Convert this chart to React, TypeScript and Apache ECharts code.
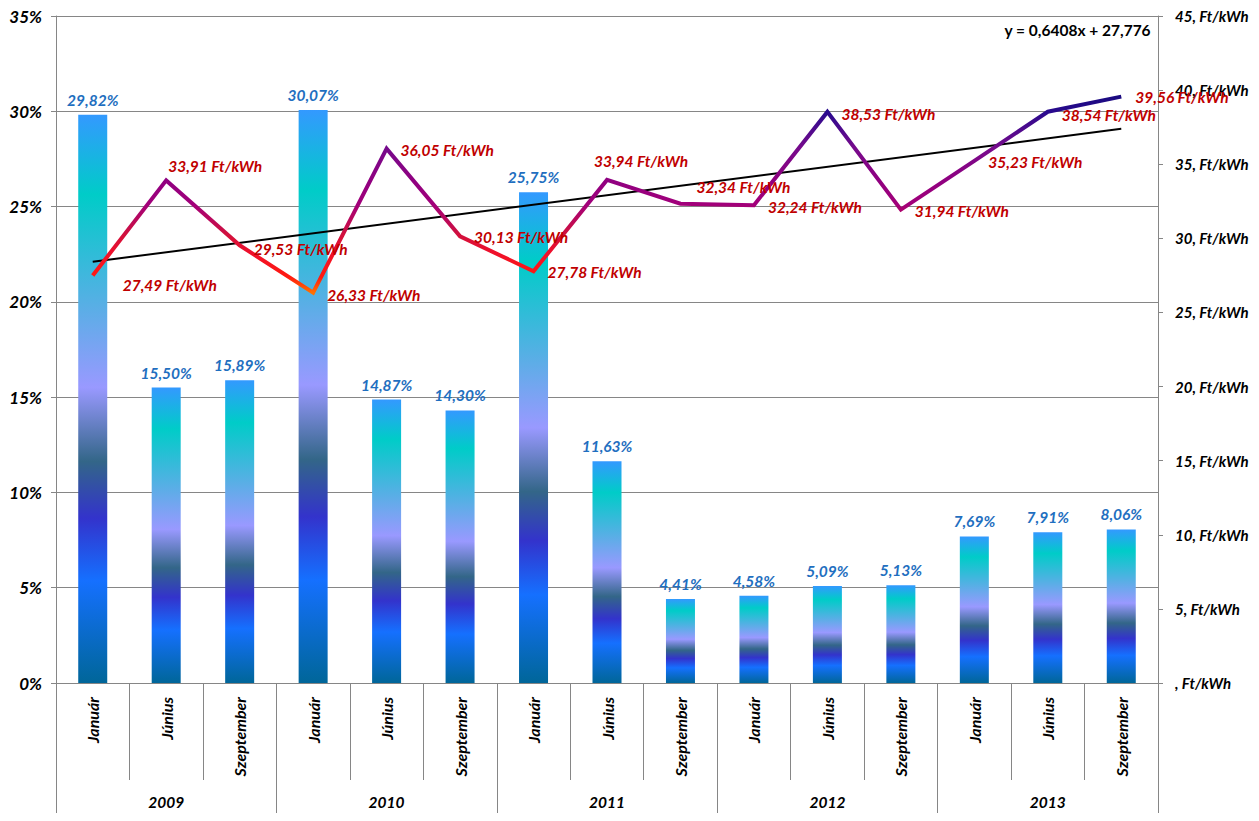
import React, { useEffect, useRef } from "react";
import * as echarts from "echarts";

const categories = [
  "Január", "Június", "Szeptember",
  "Január", "Június", "Szeptember",
  "Január", "Június", "Szeptember",
  "Január", "Június", "Szeptember",
  "Január", "Június", "Szeptember",
];
const years = ["2009", "2010", "2011", "2012", "2013"];
const shareValues = [29.82, 15.5, 15.89, 30.07, 14.87, 14.3, 25.75, 11.63, 4.41, 4.58, 5.09, 5.13, 7.69, 7.91, 8.06];
const priceValues = [27.49, 33.91, 29.53, 26.33, 36.05, 30.13, 27.78, 33.94, 32.34, 32.24, 38.53, 31.94, 35.23, 38.54, 39.56];
const trendEnds = [28.42, 37.39];
const trendLabel = "y = 0,6408x + 27,776";
// label offsets (styling) for line labels
const priceLabelOffsets: number[][] = [
  [16, 9], [-12, -14], [0, 4], [0, 2], [0, 1], [0, 1], [0, 1],
  [-27, -19], [2, -17], [0, 2], [0, 2], [0, 1], [0, 1], [0, 3], [0, 0],
];

const FONT = "Lato, 'Noto Sans', sans-serif";
const GRID_COLOR = "#868686";

const fmt = (v: number) => v.toFixed(2).replace(".", ",");

export default function App() {
  const ref = useRef<HTMLDivElement>(null);
  useEffect(() => {
    if (!ref.current) return;
    const chart = echarts.init(ref.current, null, { renderer: "svg" });
    const barGradient = new echarts.graphic.LinearGradient(0, 0, 0, 1, [
      { offset: 0, color: "#3399ff" },
      { offset: 0.14, color: "#00ccc8" },
      { offset: 0.34, color: "#5aaee6" },
      { offset: 0.48, color: "#9999ff" },
      { offset: 0.61, color: "#336688" },
      { offset: 0.71, color: "#3333cc" },
      { offset: 0.82, color: "#1570ff" },
      { offset: 1, color: "#006699" },
    ]);
    const lineGradient = new echarts.graphic.LinearGradient(0, 0, 0, 1, [
      { offset: 0, color: "#1a0a80" },
      { offset: 0.08, color: "#2a0a8e" },
      { offset: 0.26, color: "#760a8c" },
      { offset: 0.43, color: "#900080" },
      { offset: 0.55, color: "#a2007a" },
      { offset: 0.7, color: "#d0103e" },
      { offset: 0.8, color: "#f0102a" },
      { offset: 0.92, color: "#ff1a10" },
      { offset: 1, color: "#ff7000" },
    ]);
    const txt = (size: number, color = "#000") => ({
      fontFamily: FONT,
      fontSize: size,
      fontWeight: "bold",
      fontStyle: "italic",
      color,
    });
    chart.setOption({
      animation: false,
      grid: { left: 56, right: 101, top: 16, bottom: 138, containLabel: false },
      xAxis: [
        {
          type: "category",
          data: categories,
          position: "bottom",
          axisLine: { show: true, lineStyle: { color: GRID_COLOR, width: 1 } },
          axisTick: { show: true, length: 97, interval: 0, lineStyle: { color: GRID_COLOR } },
          axisLabel: { interval: 0, rotate: 90, margin: 14, ...txt(16) },
        },
        {
          type: "category",
          data: years,
          position: "bottom",
          axisLine: { show: false },
          axisTick: { show: true, length: 131, interval: 0, lineStyle: { color: GRID_COLOR } },
          axisLabel: { interval: 0, margin: 111, ...txt(15.5) },
        },
      ],
      yAxis: [
        {
          type: "value",
          min: 0,
          max: 35,
          interval: 5,
          position: "left",
          axisLine: { show: true, lineStyle: { color: GRID_COLOR } },
          axisTick: { show: true, length: 5, lineStyle: { color: GRID_COLOR } },
          splitLine: { show: true, lineStyle: { color: GRID_COLOR, width: 1 } },
          axisLabel: { formatter: (v: number) => v + "%", margin: 14, ...txt(17) },
        },
        {
          type: "value",
          min: 0,
          max: 45,
          interval: 5,
          position: "right",
          axisLine: { show: true, lineStyle: { color: GRID_COLOR } },
          axisTick: { show: true, length: 5, lineStyle: { color: GRID_COLOR } },
          splitLine: { show: false },
          axisLabel: {
            formatter: (v: number) => (v === 0 ? "" : String(v)) + ", Ft/kWh",
            margin: 17,
            ...txt(15),
          },
        },
      ],
      graphic: [
        {
          type: "text",
          right: 108,
          top: 22,
          style: {
            text: trendLabel,
            fontFamily: FONT,
            fontSize: 15.5,
            fontWeight: "bold",
            fill: "#000",
          },
        },
      ],
      series: [
        {
          type: "bar",
          data: shareValues,
          xAxisIndex: 0,
          yAxisIndex: 0,
          barWidth: 29,
          itemStyle: { color: barGradient },
          label: {
            show: true,
            position: "top",
            distance: 7,
            formatter: (p: any) => fmt(p.value) + "%",
            ...txt(15.5, "#1f6fc0"),
          },
          z: 1,
        },
        {
          type: "line",
          data: priceValues.map((v, i) => ({
            value: v,
            label: { offset: priceLabelOffsets[i] },
          })),
          xAxisIndex: 0,
          yAxisIndex: 1,
          symbol: "circle",
          symbolSize: 0,
          showSymbol: true,
          lineStyle: { width: 4, color: lineGradient, join: "miter" },
          label: {
            show: true,
            position: "right",
            distance: 14,
            formatter: (p: any) => fmt(p.value) + " Ft/kWh",
            ...txt(15.5, "#c00000"),
          },
          z: 3,
        },
        {
          type: "line",
          data: categories.map((_, i) =>
            i === 0 ? trendEnds[0] : i === categories.length - 1 ? trendEnds[1] : null
          ),
          connectNulls: true,
          xAxisIndex: 0,
          yAxisIndex: 1,
          symbol: "none",
          lineStyle: { width: 2, color: "#000" },
          z: 2,
        },
      ],
    });
    return () => chart.dispose();
  }, []);
  return <div ref={ref} style={{ width: 1259, height: 821, margin: -8 }} />;
}
